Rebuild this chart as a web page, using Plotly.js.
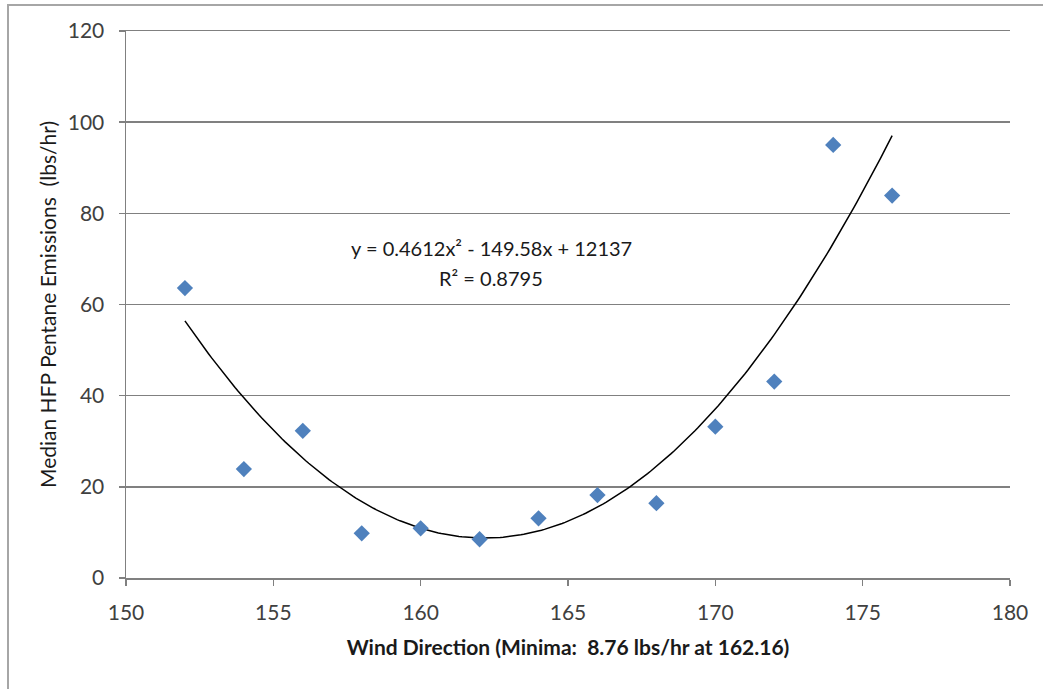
<!DOCTYPE html>
<html>
<head>
<meta charset="utf-8">
<script src="https://cdn.plot.ly/plotly-3.0.1.min.js"></script>
<style>
  html, body { margin: 0; padding: 0; background: #fff; overflow: hidden; }
  #chart { width: 1043px; height: 689px; }
  #frame { position: absolute; left: 7px; top: 4px; width: 3000px; height: 3000px;
           border: 2px solid #a6a6a6; pointer-events: none; box-sizing: border-box; }
</style>
</head>
<body>
<div id="chart"></div>
<div id="frame"></div>
<script>
// Data
const windDirection = [152, 154, 156, 158, 160, 162, 164, 166, 168, 170, 172, 174, 176];
const medianEmissions = [63.6, 23.9, 32.3, 9.8, 10.9, 8.5, 13.1, 18.2, 16.4, 33.2, 43.1, 95.0, 83.9];

// Polynomial trendline coefficients as printed on the chart
const trendA = 0.4612, trendB = -149.58, trendC = 12137;
const trendRange = [152, 176];
const equationText = "y = 0.4612x² - 149.58x + 12137";
const r2Text = "R² = 0.8795";

const xTicks = [150, 155, 160, 165, 170, 175, 180];
const yTicks = [0, 20, 40, 60, 80, 100, 120];

const trendX = [];
const trendY = [];
for (let i = 0; i <= 240; i++) {
  const x = trendRange[0] + (trendRange[1] - trendRange[0]) * i / 240;
  trendX.push(x);
  trendY.push(trendA * x * x + trendB * x + trendC);
}

const font = "Lato, 'Open Sans', 'DejaVu Sans', sans-serif";

const traces = [
  {
    x: trendX, y: trendY, type: 'scatter', mode: 'lines',
    line: { color: '#000000', width: 1.5 }, hoverinfo: 'skip', showlegend: false
  },
  {
    x: windDirection, y: medianEmissions, type: 'scatter', mode: 'markers',
    marker: { symbol: 'diamond', size: 12.5, color: '#4f81bd', line: { width: 0 } },
    showlegend: false
  }
];

const layout = {
  width: 1043, height: 689,
  margin: { l: 126, r: 33, t: 31, b: 111 },
  paper_bgcolor: '#ffffff', plot_bgcolor: '#ffffff',
  font: { family: font, size: 21, color: '#404040' },
  showlegend: false,
  xaxis: {
    range: [150, 180], tickvals: xTicks, ticktext: xTicks.map(String),
    showgrid: false, zeroline: false,
    showline: true, mirror: true, linecolor: '#808080', linewidth: 1.5,
    ticks: 'outside', ticklen: 6, tickcolor: '#808080', tickwidth: 1.5,
    ticklabelstandoff: 9,
    tickfont: { family: font, size: 21, color: '#404040' },
    title: { text: '<b>Wind Direction (Minima:  8.76 lbs/hr at 162.16)</b>',
             font: { family: font, size: 21, color: '#1a1a1a' }, standoff: 17 }
  },
  yaxis: {
    range: [0, 120], tickvals: yTicks, ticktext: yTicks.map(String),
    showgrid: true, gridcolor: '#808080', gridwidth: 1.5, zeroline: false,
    showline: true, linecolor: '#808080', linewidth: 1.5,
    ticks: 'outside', ticklen: 6, tickcolor: '#808080', tickwidth: 1.5,
    ticklabelstandoff: 10,
    tickfont: { family: font, size: 21, color: '#404040' },
    title: { text: 'Median HFP Pentane Emissions  (lbs/hr)',
             font: { family: font, size: 21, color: '#1a1a1a' }, standoff: 5 }
  },
  annotations: [
    { x: 162.4, y: 72.4, xref: 'x', yref: 'y', text: equationText, showarrow: false,
      font: { family: font, size: 20, color: '#1a1a1a' }, xanchor: 'center', yanchor: 'middle' },
    { x: 162.4, y: 65.8, xref: 'x', yref: 'y', text: r2Text, showarrow: false,
      font: { family: font, size: 20, color: '#1a1a1a' }, xanchor: 'center', yanchor: 'middle' }
  ]
};

Plotly.newPlot('chart', traces, layout, { displayModeBar: false, staticPlot: true });
</script>
</body>
</html>
